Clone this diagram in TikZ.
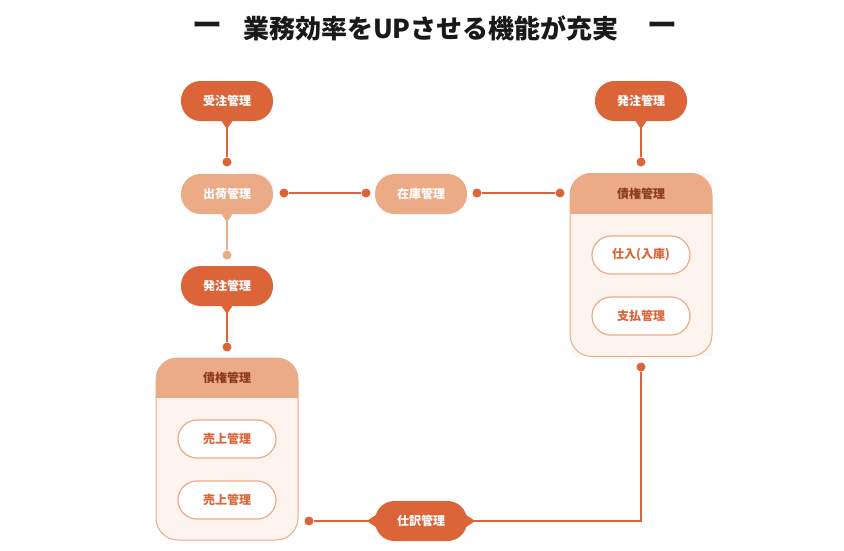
\documentclass[tikz,border=0pt]{standalone}
\usepackage{fontspec}
\setmainfont{Noto Sans CJK JP}
\usepackage{xcolor}
\definecolor{darkorange}{HTML}{DB6439}
\definecolor{lightorange}{HTML}{EBAB86}
\definecolor{cream}{HTML}{FDF4EF}
\definecolor{headbrown}{HTML}{8A3A1F}
\tikzset{
    pill/.style={rectangle, rounded corners=19.5pt, minimum width=92pt, minimum height=40pt,
        text=white, font=\fontsize{12}{14}\selectfont\bfseries},
    darkpill/.style={pill, fill=darkorange},
    lightpill/.style={pill, fill=lightorange},
    subpill/.style={rectangle, rounded corners=19pt, minimum width=98pt, minimum height=38pt,
        draw=lightorange, line width=1.2pt, fill=white, text=darkorange,
        font=\fontsize{12}{14}\selectfont\bfseries},
    card/.style={rectangle, rounded corners=22pt, minimum width=142pt, minimum height=182pt,
        draw=lightorange, line width=1pt, fill=cream},
    cardhead/.style={text=headbrown, font=\fontsize{12}{14}\selectfont\bfseries},
    dot/.style={circle, inner sep=0pt, minimum size=9pt, fill=darkorange},
    lightdot/.style={dot, fill=lightorange},
    link/.style={darkorange, line width=1.5pt},
    lightlink/.style={lightorange, line width=1.5pt},
    titletext/.style={font=\fontsize{26}{30}\selectfont\bfseries, text=black!90},
}
\begin{document}
\begin{tikzpicture}[x=1pt, y=-1pt]
    \useasboundingbox (0,0) rectangle (844,550);

    % Title
        \node[titletext, xscale=1.15, transform shape] (tdashl) at (207,28) {ー};
        \node[titletext] (title) at (431,28) {業務効率をUPさせる機能が充実};
        \node[titletext, xscale=1.15, transform shape] (tdashr) at (662,28) {ー};

    % Cards first, so that they stay behind
        \fill[cream!55] (571,173) rectangle (712,356);
        \node[card] (lcard) at (227,449) {};
        \node[card, minimum height=183pt] (rcard) at (641,265) {};
        \begin{scope}
            \clip[rounded corners=22pt] (lcard.north west) rectangle (lcard.south east);
            \fill[lightorange] (lcard.north west) rectangle ([shift={(0,40)}]lcard.north east);
        \end{scope}
        \begin{scope}
            \clip[rounded corners=22pt] (rcard.north west) rectangle (rcard.south east);
            \fill[lightorange] (rcard.north west) rectangle ([shift={(0,41)}]rcard.north east);
        \end{scope}
        \node[cardhead] (lhead) at (227,378) {債権管理};
        \node[cardhead] (rhead) at (641,194) {債権管理};

    % Pills
        \node[darkpill] (order) at (227,101) {受注管理};
        \node[lightpill] (ship) at (227,194) {出荷管理};
        \node[darkpill] (lpurchase) at (227,286) {発注管理};
        \node[lightpill] (stock) at (421,194) {在庫管理};
        \node[darkpill] (rpurchase) at (641,101) {発注管理};
        \node[darkpill] (journal) at (421,521) {仕訳管理};
        \node[subpill] (sales1) at (227,439) {売上管理};
        \node[subpill] (sales2) at (227,500) {売上管理};
        \node[subpill] (stockin) at (641,255) {仕入(入庫)};
        \node[subpill] (payment) at (641,316) {支払管理};

    % Dots
        \node[dot] (d1) at (227,162) {};
        \node[lightdot] (d2) at (227,255) {};
        \node[dot] (d3) at (227,347) {};
        \node[dot] (d4) at (284,193) {};
        \node[dot] (d5) at (366,193) {};
        \node[dot] (d6) at (477,193) {};
        \node[dot] (d7) at (560,193) {};
        \node[dot] (d8) at (641,162) {};
        \node[dot] (d9) at (641,367) {};
        \node[dot] (d10) at (309,521) {};

    % Pointers on the pills
        \fill[darkorange] ([shift={(-6,-1)}]order.south) -- ([shift={(0,8)}]order.south) -- ([shift={(6,-1)}]order.south) -- cycle;
        \fill[lightorange] ([shift={(-6,-1)}]ship.south) -- ([shift={(0,8)}]ship.south) -- ([shift={(6,-1)}]ship.south) -- cycle;
        \fill[darkorange] ([shift={(-6,-1)}]lpurchase.south) -- ([shift={(0,8)}]lpurchase.south) -- ([shift={(6,-1)}]lpurchase.south) -- cycle;
        \fill[darkorange] ([shift={(-6,-1)}]rpurchase.south) -- ([shift={(0,8)}]rpurchase.south) -- ([shift={(6,-1)}]rpurchase.south) -- cycle;
        \fill[darkorange] ([shift={(1,-6)}]journal.west) -- ([shift={(-8,0)}]journal.west) -- ([shift={(1,6)}]journal.west) -- cycle;
        \fill[darkorange] ([shift={(-1,-6)}]journal.east) -- ([shift={(8,0)}]journal.east) -- ([shift={(-1,6)}]journal.east) -- cycle;

    % Now draw the lines
        \draw[link] (order) -- (d1);
        \draw[lightlink] (ship) -- (d2);
        \draw[link] (lpurchase) -- (d3);
        \draw[link] (d4) -- (d5);
        \draw[link] (d6) -- (d7);
        \draw[link] (rpurchase) -- (d8);
        \draw[link] (d9) |- (journal);
        \draw[link] (journal) -- (d10);
\end{tikzpicture}
\end{document}
